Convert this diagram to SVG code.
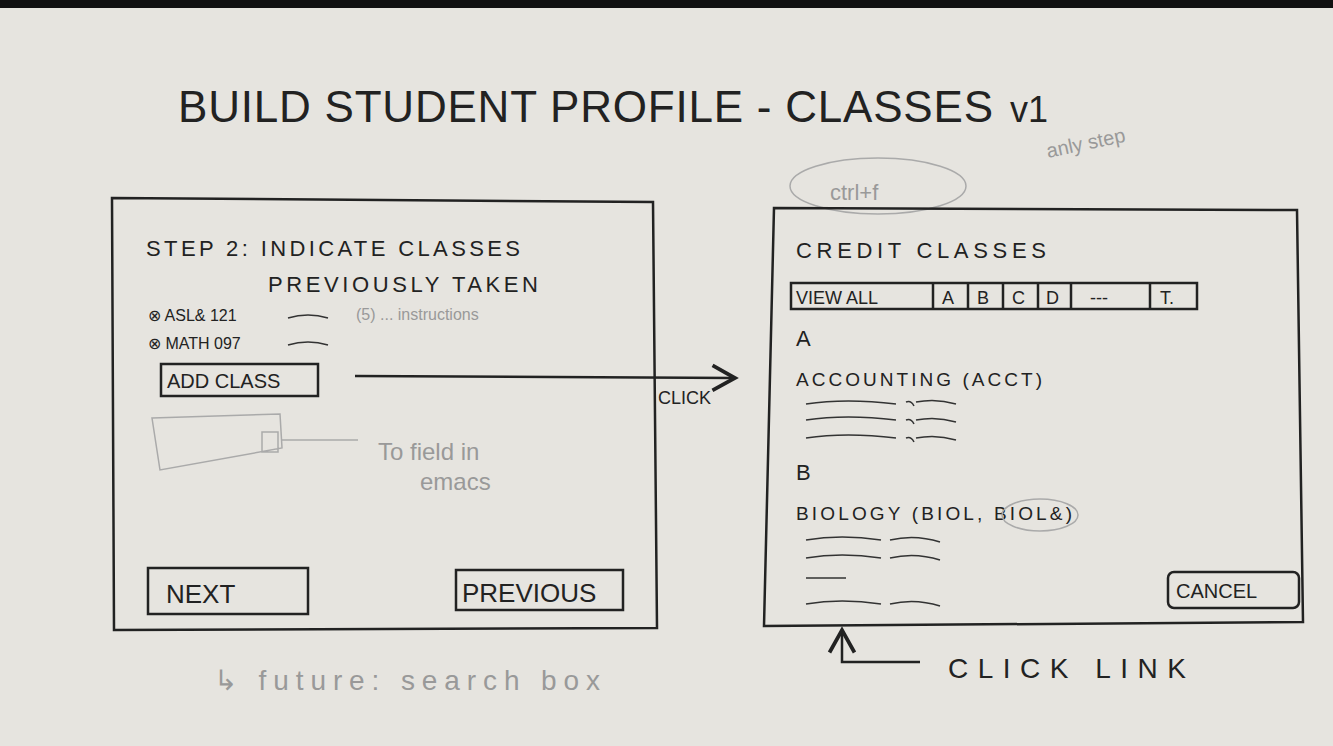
<svg xmlns="http://www.w3.org/2000/svg" width="1333" height="746" viewBox="0 0 1333 746">
<style>
.t{font-family:"Liberation Sans",sans-serif;fill:#222;}
.g{font-family:"Liberation Sans",sans-serif;fill:#999;}
.k{fill:none;stroke:#222;stroke-width:2.5;}
.l{fill:none;stroke:#aaa;stroke-width:1.5;}
.s{fill:none;stroke:#333;stroke-width:1.5;}
</style>
<defs><marker id="a" markerWidth="12" markerHeight="12" refX="10" refY="6" orient="auto"><path d="M1,1 L10,6 L1,11" fill="none" stroke="#222" stroke-width="1.5"/></marker></defs>
<rect width="1333" height="746" fill="#e6e4df"/>
<rect width="1333" height="8" fill="#111"/>
<text class="t" x="178" y="122" font-size="44" textLength="815">BUILD STUDENT PROFILE - CLASSES</text>
<text class="t" x="1010" y="122" font-size="36">v1</text>
<text class="g" x="1048" y="158" font-size="20" transform="rotate(-12 1048 158)">anly step</text>
<ellipse class="l" cx="878" cy="186" rx="88" ry="28"/>
<text class="g" x="830" y="200" font-size="22">ctrl+f</text>
<g id="left">
<path class="k" d="M112,198 L653,202 L657,628 L114,630 Z"/>
<text class="t" x="146" y="256" font-size="22" textLength="374">STEP 2: INDICATE CLASSES</text>
<text class="t" x="268" y="292" font-size="22" textLength="270">PREVIOUSLY TAKEN</text>
<text class="t" x="148" y="321" font-size="16">⊗ ASL&amp; 121</text>
<text class="t" x="148" y="349" font-size="16">⊗ MATH 097</text>
<path class="s" d="M288,318 q20,-6 40,0 M288,345 q20,-6 40,0"/>
<text class="g" x="356" y="320" font-size="16">(5) ... instructions</text>
</g>
<g id="addclass"><rect class="k" x="161" y="364" width="157" height="32"/><text class="t" x="167" y="388" font-size="20">ADD CLASS</text></g>
<g id="sketch"><path class="l" d="M152,418 L280,414 L282,448 L160,470 Z M262,432 h16 v20 h-16 Z M282,440 L358,440"/>
<text class="g" x="378" y="460" font-size="24">To field in</text><text class="g" x="420" y="490" font-size="24">emacs</text></g>
<g id="next"><rect class="k" x="148" y="568" width="160" height="46"/><text class="t" x="166" y="603" font-size="26">NEXT</text></g>
<g id="previous"><rect class="k" x="456" y="570" width="167" height="40"/><text class="t" x="462" y="602" font-size="26">PREVIOUS</text></g>
<text class="g" x="214" y="690" font-size="28" textLength="386">↳ future: search box</text>
<g id="right">
<path class="k" d="M774,208 L1297,210 L1303,622 L764,626 Z"/>
<text class="t" x="796" y="258" font-size="22" textLength="250">CREDIT CLASSES</text>
<rect class="k" x="791" y="283" width="406" height="26"/>
<path class="k" d="M933,283 v26 M968,283 v26 M1003,283 v26 M1038,283 v26 M1071,283 v26 M1150,283 v26"/>
<text class="t" x="796" y="304" font-size="18">VIEW ALL</text>
<text class="t" x="942" y="304" font-size="18">A</text><text class="t" x="977" y="304" font-size="18">B</text><text class="t" x="1012" y="304" font-size="18">C</text><text class="t" x="1046" y="304" font-size="18">D</text><text class="t" x="1090" y="304" font-size="18">---</text><text class="t" x="1160" y="304" font-size="18">T.</text>
<text class="t" x="796" y="346" font-size="22">A</text>
<text class="t" x="796" y="386" font-size="19" textLength="246">ACCOUNTING (ACCT)</text>
<path class="s" d="M806,404 q40,-6 90,0 M906,402 q5,-2 8,4 M916,402 q20,-4 40,2 M806,420 q40,-6 90,0 M906,420 q5,-2 8,4 M916,420 q20,-4 40,2 M806,438 q40,-6 90,0 M906,438 q5,-2 8,4 M916,438 q20,-4 40,2"/>
<text class="t" x="796" y="480" font-size="22">B</text>
<text class="t" x="796" y="520" font-size="19" textLength="276">BIOLOGY (BIOL, BIOL&amp;)</text>
<ellipse class="l" cx="1040" cy="515" rx="38" ry="16"/>
<path class="s" d="M806,540 q35,-6 75,0 M890,540 q25,-6 50,2 M806,558 q35,-6 75,0 M890,558 q25,-6 50,2 M806,578 h40 M806,604 q35,-6 75,0 M890,604 q25,-6 50,2"/>
</g>
<g id="cancel"><rect class="k" x="1168" y="572" width="131" height="36" rx="6"/><text class="t" x="1176" y="598" font-size="20">CANCEL</text></g>
<g id="connectors">
<path class="k" d="M355,376 L735,378" marker-end="url(#a)"/>
<path class="k" d="M920,662 L842,662 L842,630" marker-end="url(#a)"/>
</g>
<text class="t" x="658" y="404" font-size="18">CLICK</text>
<text class="t" x="948" y="678" font-size="28" textLength="238">CLICK LINK</text>
</svg>
